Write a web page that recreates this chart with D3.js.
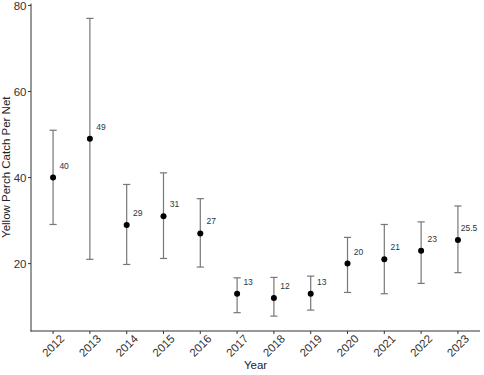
<!DOCTYPE html>
<html>
<head>
<meta charset="utf-8">
<script src="https://cdn.jsdelivr.net/npm/d3@7"></script>
<style>
  html, body { margin: 0; padding: 0; background: #fff; }
  svg { display: block; font-family: "Liberation Sans", Arial, sans-serif; }
</style>
</head>
<body>
<svg id="chart" width="484" height="375"></svg>
<script>
const years  = ["2012","2013","2014","2015","2016","2017","2018","2019","2020","2021","2022","2023"];
const means  = [40, 49, 29, 31, 27, 13, 12, 13, 20, 21, 23, 25.5];
const lowers = [29.1, 21.0, 19.8, 21.2, 19.2, 8.6, 7.8, 9.2, 13.3, 13.0, 15.4, 17.9];
const uppers = [51.0, 77.0, 38.4, 41.1, 35.1, 16.7, 16.8, 17.1, 26.1, 29.1, 29.7, 33.4];
const yTicks = [20, 40, 60, 80];

const data = years.map((y, i) => ({ year: y, mean: means[i], lo: lowers[i], hi: uppers[i] }));

const svg = d3.select("#chart");
const pLeft = 31, pRight = 480, pTop = 3.5, pBottom = 331;

const dMin = d3.min(lowers), dMax = d3.max(uppers);
const pad = 0.05 * (dMax - dMin);
const y = d3.scaleLinear().domain([dMin - pad, dMax + pad]).range([pBottom, pTop]);
const x = d3.scalePoint().domain(years).range([pLeft, pRight]).padding(0.6);

const axisColor = "#333";
const textColor = "#333";

// axes lines
svg.append("line").attr("x1", pLeft).attr("x2", pLeft).attr("y1", pTop).attr("y2", pBottom + 0.5)
  .attr("stroke", axisColor).attr("stroke-width", 1);
svg.append("line").attr("x1", pLeft - 0.5).attr("x2", pRight).attr("y1", pBottom).attr("y2", pBottom)
  .attr("stroke", axisColor).attr("stroke-width", 1);

// y ticks
const yt = svg.append("g");
yt.selectAll("line").data(yTicks).join("line")
  .attr("x1", pLeft - 3).attr("x2", pLeft).attr("y1", d => y(d)).attr("y2", d => y(d))
  .attr("stroke", axisColor);
yt.selectAll("text").data(yTicks).join("text")
  .attr("x", pLeft - 4.5).attr("y", d => y(d)).attr("dy", "0.36em")
  .attr("text-anchor", "end").attr("font-size", 11.5).attr("fill", textColor)
  .text(d => d);

// x ticks
const xt = svg.append("g");
xt.selectAll("line").data(years).join("line")
  .attr("x1", d => x(d)).attr("x2", d => x(d)).attr("y1", pBottom).attr("y2", pBottom + 3)
  .attr("stroke", axisColor);
xt.selectAll("text").data(years).join("text")
  .attr("transform", d => `translate(${x(d)},${pBottom + 14.5}) rotate(-45)`)
  .attr("text-anchor", "middle").attr("dy", "0.36em")
  .attr("font-size", 11.5).attr("fill", textColor)
  .text(d => d);

// axis titles
svg.append("text").attr("x", (pLeft + pRight) / 2).attr("y", 369)
  .attr("text-anchor", "middle").attr("font-size", 11.5).attr("fill", "#222")
  .text("Year");
svg.append("text").attr("transform", `translate(9.5,${(pTop + pBottom) / 2}) rotate(-90)`)
  .attr("text-anchor", "middle").attr("font-size", 11.5).attr("fill", "#222")
  .text("Yellow Perch Catch Per Net");

// error bars
const capW = 3.6;
const eb = svg.append("g").attr("stroke", "#777").attr("stroke-width", 1.2);
eb.selectAll(".v").data(data).join("line").attr("class", "v")
  .attr("x1", d => x(d.year)).attr("x2", d => x(d.year))
  .attr("y1", d => y(d.lo)).attr("y2", d => y(d.hi));
eb.selectAll(".t").data(data).join("line").attr("class", "t")
  .attr("x1", d => x(d.year) - capW).attr("x2", d => x(d.year) + capW)
  .attr("y1", d => y(d.hi)).attr("y2", d => y(d.hi));
eb.selectAll(".b").data(data).join("line").attr("class", "b")
  .attr("x1", d => x(d.year) - capW).attr("x2", d => x(d.year) + capW)
  .attr("y1", d => y(d.lo)).attr("y2", d => y(d.lo));

// points
svg.append("g").selectAll("circle").data(data).join("circle")
  .attr("cx", d => x(d.year)).attr("cy", d => y(d.mean)).attr("r", 3)
  .attr("fill", "#000");

// value labels
const step = x.step();
svg.append("g").selectAll("text").data(data).join("text")
  .attr("x", d => x(d.year) + 0.3 * step)
  .attr("y", d => y(d.mean + 2.8)).attr("dy", "0.35em")
  .attr("text-anchor", "middle").attr("font-size", 8.5).attr("fill", "#2b3440")
  .text(d => d.mean);
</script>
</body>
</html>
